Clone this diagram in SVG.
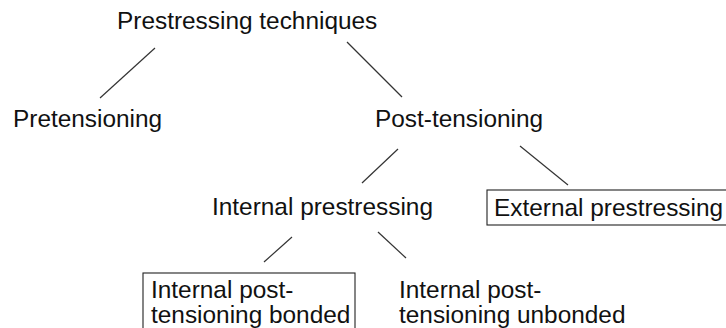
<svg xmlns="http://www.w3.org/2000/svg" width="726" height="328" viewBox="0 0 726 328">
<style>
text{font-family:"Liberation Sans",Arial,sans-serif;font-size:24.4px;fill:#111}
.c line{stroke:#333;stroke-width:1.2}
.box{fill:none;stroke:#222;stroke-width:1.1}
</style>
<rect width="726" height="328" fill="#fff"/>
<g id="root"><text x="117" y="29">Prestressing techniques</text></g>
<g id="pretensioning"><text x="13" y="127">Pretensioning</text></g>
<g id="post-tensioning"><text x="375" y="127">Post-tensioning</text></g>
<g id="internal"><text x="212" y="215">Internal prestressing</text></g>
<g id="external"><rect class="box" x="487" y="190" width="245" height="35"/><text x="494" y="216">External prestressing</text></g>
<g id="bonded"><rect class="box" x="143" y="273" width="212" height="70"/><text x="151" y="298">Internal post-</text><text x="151" y="323">tensioning bonded</text></g>
<g id="unbonded"><text x="399" y="298">Internal post-</text><text x="399" y="323">tensioning unbonded</text></g>
<g class="c" id="connectors">
<line x1="155" y1="48" x2="100" y2="98"/>
<line x1="347" y1="42" x2="402" y2="97"/>
<line x1="398" y1="149" x2="362" y2="183"/>
<line x1="520" y1="146" x2="568" y2="185"/>
<line x1="292" y1="237" x2="264" y2="262"/>
<line x1="378" y1="232" x2="406" y2="258"/>
</g>
</svg>
